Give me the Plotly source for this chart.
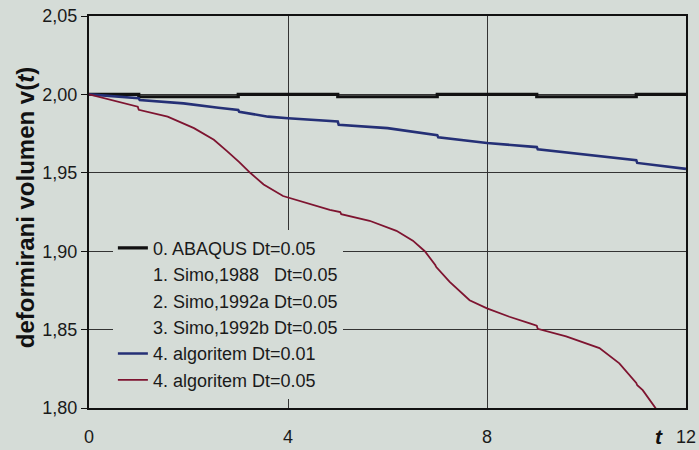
import plotly.graph_objects as go

# ---- data ----
t_abaqus = [0, 1.0, 1.0, 3.0, 3.0, 5.0, 5.0, 7.0, 7.0, 9.0, 9.0, 11.0, 11.0, 12.0]
v_abaqus = [2.000, 2.000, 1.9985, 1.9985, 2.000, 2.000, 1.9985, 1.9985, 2.000, 2.000,
            1.9985, 1.9985, 2.000, 2.000]

t_alg01 = [0, 0.5, 1.0, 1.02, 1.9, 2.6, 3.0, 3.02, 3.6, 4.0, 5.0, 5.02, 6.0, 7.0, 7.02,
           8.0, 9.0, 9.02, 10.0, 11.0, 11.02, 12.0]
v_alg01 = [2.000, 1.9986, 1.9975, 1.9964, 1.9943, 1.9915, 1.9900, 1.9889, 1.9858,
           1.9848, 1.9827, 1.9806, 1.9785, 1.9740, 1.9727, 1.9690, 1.9664, 1.9650,
           1.9615, 1.9580, 1.9563, 1.9525]

t_alg05 = [0, 0.5, 0.98, 1.0, 1.58, 2.11, 2.51, 2.78, 3.0, 3.02, 3.24, 3.51, 3.9,
           4.43, 4.84, 5.05, 5.07, 5.64, 6.18, 6.51, 6.75, 6.96, 6.98, 7.25, 7.65,
           8.0, 8.45, 8.86, 9.0, 9.02, 9.59, 10.26, 10.66, 11.0, 11.02, 11.13,
           11.42, 11.6]
v_alg05 = [2.000, 1.9961, 1.9922, 1.9902, 1.9858, 1.9785, 1.9711, 1.9637, 1.9578,
           1.9568, 1.9500, 1.9426, 1.9352, 1.9300, 1.9263, 1.9250, 1.9236, 1.9194,
           1.9130, 1.9067, 1.9000, 1.8912, 1.8899, 1.8804, 1.8687, 1.8635, 1.8582,
           1.8540, 1.8525, 1.8505, 1.8457, 1.8382, 1.8285, 1.8160, 1.8145, 1.8114,
           1.7985, 1.7920]

legend_names = ["0. ABAQUS Dt=0.05",
                "1. Simo,1988   Dt=0.05",
                "2. Simo,1992a Dt=0.05",
                "3. Simo,1992b Dt=0.05",
                "4. algoritem Dt=0.01",
                "4. algoritem Dt=0.05"]

x_ticks = [0, 4, 8, 12]
y_ticks = [1.80, 1.85, 1.90, 1.95, 2.00, 2.05]
y_ticklabels = ["1,80", "1,85", "1,90", "1,95", "2,00", "2,05"]

BG = "#d5dcd7"

fig = go.Figure()
fig.add_trace(go.Scatter(x=t_abaqus, y=v_abaqus, mode="lines", name=legend_names[0],
                         line=dict(color="#111111", width=3.2)))
for nm in legend_names[1:4]:
    fig.add_trace(go.Scatter(x=[None], y=[None], mode="lines", name=nm,
                             line=dict(color="rgba(0,0,0,0)", width=2)))
fig.add_trace(go.Scatter(x=t_alg01, y=v_alg01, mode="lines", name=legend_names[4],
                         line=dict(color="#253076", width=2.6)))
fig.add_trace(go.Scatter(x=t_alg05, y=v_alg05, mode="lines", name=legend_names[5],
                         line=dict(color="#7e1430", width=1.8)))

fig.update_layout(
    width=699, height=450,
    margin=dict(l=89, r=13, t=16, b=42, autoexpand=False),
    paper_bgcolor=BG, plot_bgcolor=BG,
    font=dict(family="Liberation Sans, Arial, sans-serif", size=18, color="#1a1a1a"),
    showlegend=True,
    legend=dict(x=0.04, y=0.455, xanchor="left", yanchor="top",
                bgcolor=BG, borderwidth=0, tracegroupgap=0,
                font=dict(size=18, color="#1a1a1a"), itemwidth=30),
    xaxis=dict(range=[0, 12], tickvals=x_ticks, ticktext=[str(v) for v in x_ticks],
               showgrid=True, gridcolor="#333333", gridwidth=1,
               showline=True, mirror=True, linecolor="#111111", linewidth=2,
               ticks="", zeroline=False, ticklabelstandoff=11, automargin=False),
    yaxis=dict(range=[1.80, 2.05], tickvals=y_ticks, ticktext=y_ticklabels,
               showgrid=True, gridcolor="#333333", gridwidth=1,
               showline=True, mirror=True, linecolor="#111111", linewidth=2,
               ticks="outside", ticklen=6, tickcolor="#111111", zeroline=False,
               automargin=False),
    annotations=[
        dict(text="<b>deformirani volumen v(<i>t</i>)</b>", xref="paper", yref="paper",
             x=-0.107, y=0.51, xanchor="center", yanchor="middle", textangle=-90,
             showarrow=False, font=dict(size=24, color="#111111")),
        dict(text="<b><i>t</i></b>", xref="paper", yref="paper",
             x=0.954, y=-0.072, xanchor="center", yanchor="middle",
             showarrow=False, font=dict(size=21, color="#111111")),
    ],
)

fig.write_html("out.html", config={"displayModeBar": False},
               post_script="document.body.style.margin='0';document.body.style.background='%s';" % BG)
